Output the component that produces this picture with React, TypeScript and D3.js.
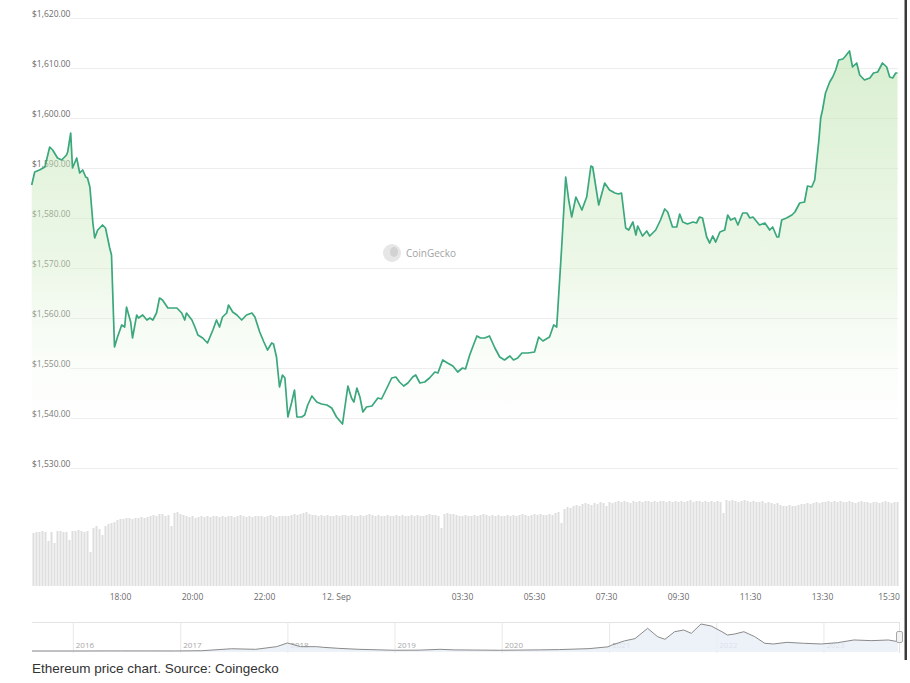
import React from 'react'
import * as d3 from 'd3'

// price samples (11 Sep 15:32 -> 12 Sep 15:35)
const priceTimes = [
  '15:32', '15:37', '15:45', '15:54', '16:02', '16:07', '16:15', '16:22', '16:30', '16:32', '16:37', '16:40',
  '16:47', '16:52', '16:57', '17:02', '17:05', '17:09', '17:14', '17:17', '17:22', '17:30', '17:35', '17:42',
  '17:45', '17:50', '17:55', '18:02', '18:07', '18:10', '18:17', '18:20', '18:27', '18:30', '18:37', '18:44',
  '18:49', '18:54', '19:00', '19:05', '19:10', '19:19', '19:27', '19:34', '19:42', '19:47', '19:50', '19:59',
  '20:04', '20:09', '20:17', '20:25', '20:34', '20:40', '20:45', '20:50', '20:57', '21:00', '21:07', '21:14',
  '21:22', '21:30', '21:39', '21:44', '21:52', '21:59', '22:05', '22:12', '22:15', '22:20', '22:25', '22:30',
  '22:34', '22:39', '22:45', '22:50', '22:54', '23:02', '23:07', '23:12', '23:19', '23:27', '23:35', '23:44',
  '23:52', '00:00', '00:10', '00:19', '00:25', '00:29', '00:34', '00:39', '00:44', '00:50', '00:59', '01:04',
  '01:09', '01:15', '01:24', '01:32', '01:39', '01:45', '01:52', '01:59', '02:07', '02:12', '02:19', '02:27',
  '02:35', '02:44', '02:49', '02:57', '03:05', '03:14', '03:22', '03:30', '03:35', '03:42', '03:47', '03:54',
  '04:00', '04:07', '04:15', '04:24', '04:32', '04:40', '04:49', '04:55', '05:02', '05:09', '05:19', '05:30',
  '05:37', '05:44', '05:55', '06:02', '06:07', '06:15', '06:22', '06:27', '06:32', '06:39', '06:49', '06:57',
  '07:04', '07:07', '07:17', '07:27', '07:35', '07:44', '07:50', '07:55', '08:02', '08:07', '08:14', '08:19',
  '08:22', '08:30', '08:37', '08:42', '08:52', '09:00', '09:07', '09:12', '09:20', '09:27', '09:32', '09:37',
  '09:45', '09:54', '10:00', '10:05', '10:10', '10:17', '10:22', '10:27', '10:32', '10:39', '10:47', '10:52',
  '10:57', '11:04', '11:09', '11:17', '11:24', '11:29', '11:34', '11:45', '11:54', '12:02', '12:07', '12:14',
  '12:17', '12:22', '12:30', '12:39', '12:44', '12:52', '13:00', '13:05', '13:12', '13:17', '13:20', '13:24',
  '13:27', '13:30', '13:35', '13:42', '13:47', '13:52', '13:57', '14:04', '14:07', '14:15', '14:20', '14:27',
  '14:32', '14:40', '14:49', '14:55', '15:02', '15:10', '15:17', '15:22', '15:27', '15:32', '15:35'
]
const prices = [
  1586.6, 1589.2, 1589.6, 1590.2, 1594.2, 1593.6, 1592.0, 1591.6, 1592.6, 1593.2, 1597.0, 1590.0,
  1592.0, 1589.0, 1589.6, 1588.2, 1588.0, 1586.2, 1579.0, 1576.0, 1577.6, 1578.6, 1578.0, 1574.0,
  1572.6, 1554.2, 1556.2, 1558.6, 1558.2, 1562.2, 1559.2, 1556.0, 1560.6, 1560.0, 1560.6, 1559.6,
  1560.0, 1559.6, 1561.0, 1564.0, 1563.6, 1562.0, 1562.0, 1562.0, 1561.0, 1559.6, 1561.0, 1559.6,
  1558.2, 1556.6, 1556.0, 1555.0, 1557.6, 1559.6, 1558.2, 1560.2, 1561.0, 1562.6, 1561.2, 1560.6,
  1559.6, 1560.6, 1561.0, 1560.2, 1557.2, 1555.2, 1553.6, 1555.0, 1554.8, 1552.2, 1546.2, 1548.6,
  1548.0, 1540.2, 1543.0, 1545.6, 1540.2, 1540.2, 1540.6, 1542.6, 1544.4, 1543.2, 1542.8, 1542.6,
  1542.0, 1540.2, 1538.8, 1546.4, 1544.0, 1543.2, 1546.0, 1544.2, 1541.2, 1542.2, 1542.4, 1543.2,
  1544.0, 1543.8, 1546.0, 1548.0, 1548.2, 1547.2, 1546.4, 1547.0, 1548.2, 1548.6, 1547.0, 1547.2,
  1548.0, 1549.2, 1549.0, 1551.6, 1551.0, 1550.4, 1549.2, 1550.0, 1549.8, 1552.6, 1554.2, 1556.4,
  1556.0, 1556.0, 1556.4, 1554.0, 1552.2, 1551.6, 1552.4, 1551.6, 1552.0, 1553.0, 1553.0, 1553.2,
  1556.2, 1555.4, 1556.2, 1558.6, 1558.2, 1573.6, 1588.2, 1583.6, 1580.2, 1584.2, 1581.6, 1584.2,
  1590.4, 1590.2, 1582.6, 1587.0, 1585.6, 1585.0, 1584.8, 1585.0, 1578.0, 1577.6, 1579.2, 1576.6,
  1578.4, 1576.4, 1577.4, 1576.4, 1577.6, 1579.6, 1581.8, 1581.2, 1578.2, 1578.2, 1580.8, 1579.2,
  1578.8, 1579.2, 1579.0, 1580.2, 1580.0, 1576.2, 1575.0, 1576.4, 1575.2, 1577.2, 1577.6, 1580.6,
  1579.6, 1580.0, 1578.6, 1581.0, 1581.0, 1580.0, 1580.2, 1578.6, 1579.0, 1577.6, 1578.2, 1576.2,
  1576.2, 1579.6, 1580.0, 1580.6, 1581.2, 1583.0, 1583.2, 1586.4, 1586.2, 1587.6, 1591.0, 1595.6,
  1600.0, 1601.6, 1605.0, 1607.2, 1608.2, 1609.6, 1611.6, 1611.8, 1612.2, 1613.4, 1610.2, 1611.0,
  1608.6, 1607.6, 1608.0, 1609.0, 1609.2, 1611.0, 1610.2, 1608.2, 1608.0, 1609.0, 1609.0
]

// 5-minute volume bars, starting 15:35 (relative heights)
const volumes = [
  53, 54, 54, 55, 54, 45, 54, 43, 55, 55, 54, 54, 46, 55, 55, 56, 55, 54, 55, 34, 58, 60, 57, 51,
  60, 62, 63, 64, 66, 67, 67, 68, 68, 67, 68, 68, 69, 68, 69, 70, 71, 70, 72, 72, 70, 71, 60, 73,
  74, 72, 71, 70, 69, 70, 68, 69, 70, 69, 70, 69, 70, 70, 69, 70, 69, 70, 70, 69, 70, 71, 70, 69,
  70, 69, 70, 70, 70, 69, 70, 71, 70, 69, 70, 70, 70, 70, 71, 72, 71, 72, 73, 74, 72, 71, 71, 70,
  71, 70, 71, 70, 70, 71, 70, 71, 71, 70, 71, 70, 70, 71, 70, 71, 72, 71, 70, 71, 70, 70, 71, 70,
  70, 71, 70, 71, 70, 70, 71, 70, 71, 70, 70, 71, 72, 71, 71, 70, 58, 72, 73, 72, 72, 71, 70, 70,
  71, 70, 70, 71, 70, 71, 72, 71, 70, 71, 70, 71, 70, 70, 71, 70, 71, 70, 71, 72, 71, 70, 71, 72,
  71, 72, 71, 71, 72, 71, 73, 74, 63, 77, 79, 78, 80, 81, 80, 82, 83, 82, 81, 83, 82, 84, 83, 80,
  84, 83, 84, 85, 84, 85, 84, 83, 85, 84, 85, 84, 85, 85, 84, 85, 84, 85, 85, 84, 85, 84, 85, 84,
  85, 84, 85, 86, 84, 85, 85, 84, 85, 84, 85, 84, 85, 84, 73, 86, 85, 86, 85, 84, 85, 86, 85, 84,
  85, 84, 84, 85, 83, 84, 83, 82, 83, 81, 80, 80, 81, 80, 80, 81, 82, 82, 83, 82, 83, 84, 83, 84,
  84, 85, 84, 85, 84, 85, 84, 84, 85, 84, 83, 84, 85, 84, 84, 83, 84, 84, 83, 84, 85, 84, 83, 84,
  84
]

const yTicks = [1530, 1540, 1550, 1560, 1570, 1580, 1590, 1600, 1610, 1620]
const xTickTimes = ['18:00', '20:00', '22:00', '00:00', '03:30', '05:30', '07:30', '09:30', '11:30', '13:30', '15:30']
const xTickLabels = ['18:00', '20:00', '22:00', '12. Sep', '03:30', '05:30', '07:30', '09:30', '11:30', '13:30', '15:30']

// navigator: full ETH history
const navDates = [
  '2015-08-15', '2016-01-01', '2016-06-15', '2016-12-15', '2017-03-15', '2017-06-25', '2017-09-15',
  '2017-11-25', '2018-01-01', '2018-02-15', '2018-04-10', '2018-05-05', '2018-06-25', '2018-09-01',
  '2019-01-01', '2019-03-25', '2019-06-05', '2019-07-25', '2019-12-25', '2020-05-10', '2020-07-15',
  '2020-10-25', '2020-12-28', '2021-01-10', '2021-02-22', '2021-03-30', '2021-05-12', '2021-06-15',
  '2021-07-10', '2021-08-12', '2021-09-12', '2021-10-08', '2021-11-10', '2021-12-15', '2022-01-20',
  '2022-02-08', '2022-03-05', '2022-04-05', '2022-05-12', '2022-06-15', '2022-07-15', '2022-08-30',
  '2022-10-25', '2022-12-25', '2023-02-18', '2023-04-15', '2023-06-15', '2023-08-10', '2023-09-12'
]
const navPrices = [
  2, 2, 14, 8, 50, 400, 300,
  770, 1420, 770, 770, 650, 470, 300,
  130, 150, 300, 200, 130, 200, 250,
  420, 740, 1040, 1800, 2200, 4030, 2550,
  2080, 3430, 3730, 3140, 4800, 4440, 3430,
  2840, 3020, 3430, 2550, 1370, 1250, 1540,
  1370, 1250, 1480, 1960, 1840, 1960, 1660
]
const navYears = [2016, 2017, 2018, 2019, 2020, 2021, 2022, 2023]

const toDates = (list: string[]) => {
  let day = 11
  let prev = -1
  return list.map(s => {
    const [h, m] = s.split(':').map(Number)
    const mins = h * 60 + m
    if (mins < prev) day = 12
    prev = mins
    return new Date(2023, 8, day, h, m)
  })
}

const App: React.FC = () => {
  const x = d3.scaleTime()
    .domain([new Date(2023, 8, 11, 15, 32, 30), new Date(2023, 8, 12, 15, 35, 50)])
    .range([32, 898])
  const y = d3.scaleLinear().domain([1530, 1620]).range([468, 18])
  const yVol = d3.scaleLinear().domain([0, 90]).range([586, 496])

  const pts = toDates(priceTimes).map((t, i) => ({ t, p: prices[i] }))
  const line = d3.line<{ t: Date, p: number }>().x(d => x(d.t)).y(d => y(d.p))
  const area = d3.area<{ t: Date, p: number }>().x(d => x(d.t)).y0(y(1530)).y1(d => y(d.p))

  const volStart = new Date(2023, 8, 11, 15, 35)
  const bars = volumes.map((v, i) => ({ t: d3.timeMinute.offset(volStart, i * 5), v }))

  const ticks = toDates(xTickTimes).map((t, i) => ({ t, label: xTickLabels[i] }))

  const navX = d3.scaleTime()
    .domain([new Date(2015, 7, 15), new Date(2023, 8, 12)])
    .range([32, 898])
  const navY = d3.scaleLinear().domain([0, 4800]).range([651, 624])
  const nav = navDates.map((d, i) => ({ t: new Date(d), p: navPrices[i] }))
  const navLine = d3.line<{ t: Date, p: number }>().x(d => navX(d.t)).y(d => navY(d.p))
  const navArea = d3.area<{ t: Date, p: number }>().x(d => navX(d.t)).y0(652).y1(d => navY(d.p))

  const fmt = d3.format('$,.2f')
  const font = '"Open Sans", "DejaVu Sans", sans-serif'

  return (
    <svg width={910} height={683} style={{ position: 'absolute', left: 0, top: 0, background: '#fff' }}>
      <defs>
        <linearGradient id="fillGrad" gradientUnits="userSpaceOnUse" x1={0} y1={y(1620)} x2={0} y2={y(1530)}>
          <stop offset="0" stopColor="#b9e2aa" stopOpacity={0.6} />
          <stop offset="0.55" stopColor="#d6eecb" stopOpacity={0.45} />
          <stop offset="1" stopColor="#ffffff" stopOpacity={0} />
        </linearGradient>
      </defs>

      {/* grid + y labels */}
      {yTicks.map(v => (
        <g key={v}>
          <line x1={70} x2={898} y1={y(v) + 0.5} y2={y(v) + 0.5} stroke="#ededed" />
          <text x={32} y={y(v) - 1} fontSize={8.5} fill="#6b6b6b" fontFamily={font}>{fmt(v)}</text>
        </g>
      ))}

      {/* watermark */}
      <circle cx={392} cy={253} r={9} fill="#e6e6e6" />
      <ellipse cx={394} cy={252} rx={4} ry={5} fill="#d2d2d2" />
      <text x={406} y={257} fontSize={10} fill="#a3a3a3" fontFamily={font}>CoinGecko</text>

      {/* price area + line */}
      <path d={area(pts) || ''} fill="url(#fillGrad)" />
      <path d={line(pts) || ''} fill="none" stroke="#3aa77c" strokeWidth={1.7} strokeLinejoin="round" />

      {/* volume */}
      {bars.map((b, i) => (
        <rect key={i} x={x(b.t) - 1} y={yVol(b.v)} width={2} height={yVol(0) - yVol(b.v)} fill="#dedede" />
      ))}

      {/* x labels */}
      {ticks.map(d => {
        const cx = Math.min(x(d.t), 898 - 9)
        return (
          <text key={d.label} x={cx} y={600} textAnchor="middle" fontSize={8.5} fill="#6b6b6b" fontFamily={font}>
            {d.label}
          </text>
        )
      })}

      {/* navigator */}
      <line x1={32} x2={899} y1={622.5} y2={622.5} stroke="#e3e3e3" />
      <line x1={899.5} x2={899.5} y1={622} y2={653} stroke="#e3e3e3" />
      {navYears.map(yr => {
        const gx = navX(new Date(yr, 0, 1))
        return (
          <g key={yr}>
            <line x1={gx + 0.5} x2={gx + 0.5} y1={622} y2={653} stroke="#e8e8e8" />
            <text x={gx + 3} y={648} fontSize={8} fill="#a8a8a8" fontFamily={font}>{yr}</text>
          </g>
        )
      })}
      <path d={navArea(nav) || ''} fill="#e9eff8" fillOpacity={0.8} />
      <path d={navLine(nav) || ''} fill="none" stroke="#8a8a8a" strokeWidth={1} />
      <rect x={896.5} y={631.5} width={6} height={11} rx={1.5} fill="#f2f2f2" stroke="#a8a8a8" />

      {/* frame edge */}
      <rect x={904.5} y={0} width={2.5} height={660} fill="#3a3a3a" />

      <text x={32} y={673} fontSize={13.5} fill="#333" fontFamily='"Liberation Sans", Arial, sans-serif'>
        Ethereum price chart. Source: Coingecko
      </text>
    </svg>
  )
}

export default App
